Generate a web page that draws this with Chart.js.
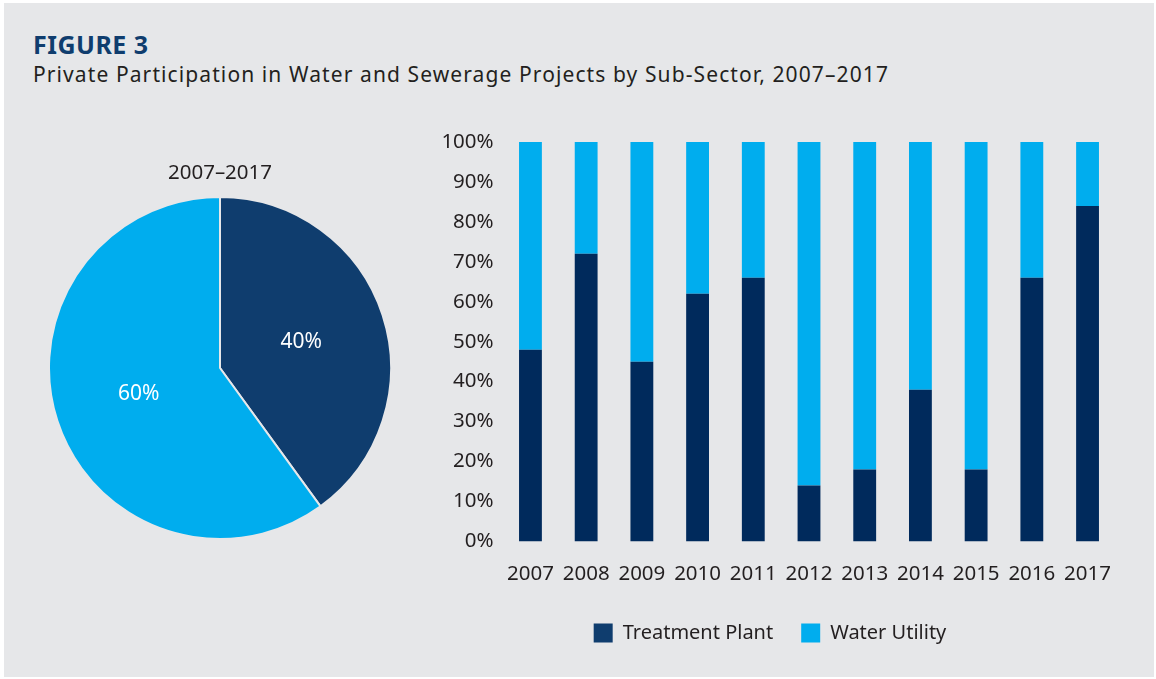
<!DOCTYPE html>
<html>
<head>
<meta charset="utf-8">
<script src="https://cdn.jsdelivr.net/npm/chart.js@4.4.1/dist/chart.umd.min.js"></script>
<style>
  html, body { margin:0; padding:0; background:#ffffff; }
  body { width:1156px; height:679px; position:relative; overflow:hidden; font-family: "Noto Sans", sans-serif; }
  #panel { position:absolute; left:4px; top:3px; right:2px; bottom:2px; background:#e6e7e9; }
  #fig { position:absolute; left:33px; top:29px; font-size:25px; line-height:30px; font-weight:700; color:#0f3d6e; white-space:nowrap; letter-spacing:0.5px; }
  #sub { position:absolute; left:33px; top:60px; font-size:21px; line-height:28px; color:#231f20; white-space:nowrap; letter-spacing:1.1px; }
  #pieWrap { position:absolute; left:48px; top:158px; width:344px; height:383px; }
  #barWrap { position:absolute; left:400px; top:110px; width:740px; height:553px; }
</style>
</head>
<body>
<div id="panel"></div>
<div id="fig">FIGURE 3</div>
<div id="sub">Private Participation in Water and Sewerage Projects by Sub-Sector, 2007–2017</div>
<div id="pieWrap"><canvas id="pie"></canvas></div>
<div id="barWrap"><canvas id="bar"></canvas></div>
<script>
const pieTitle = "2007–2017";
const seriesNames = ["Treatment Plant", "Water Utility"];
const pieValues = [40, 60];
const years = ["2007","2008","2009","2010","2011","2012","2013","2014","2015","2016","2017"];
const treatmentPlant = [48, 72, 45, 62, 66, 14, 18, 38, 18, 66, 84];
const waterUtility = [52, 28, 55, 38, 34, 86, 82, 62, 82, 34, 16];

const DARK_PIE = "#0f3d6e";
const DARK_BAR = "#002a5c";
const LIGHT = "#00adee";
const TEXT = "#231f20";
const FONT = "'Noto Sans', sans-serif";

const pieLabels = {
  id: "pieLabels",
  afterDatasetsDraw(chart) {
    const ctx = chart.ctx;
    const meta = chart.getDatasetMeta(0);
    ctx.save();
    ctx.fillStyle = "#ffffff";
    ctx.font = "21px " + FONT;
    ctx.textAlign = "center";
    ctx.textBaseline = "middle";
    meta.data.forEach((arc, i) => {
      const p = arc.tooltipPosition();
      ctx.fillText(pieValues[i] + "%", p.x, p.y);
    });
    ctx.restore();
  }
};

new Chart(document.getElementById("pie"), {
  type: "pie",
  data: {
    labels: seriesNames,
    datasets: [{
      data: pieValues,
      backgroundColor: [DARK_PIE, LIGHT],
      borderColor: "#e6e7e9",
      borderWidth: 2
    }]
  },
  options: {
    responsive: true,
    maintainAspectRatio: false,
    animation: false,
    layout: { padding: 0 },
    plugins: {
      legend: { display: false },
      tooltip: { enabled: false },
      title: {
        display: true,
        text: pieTitle,
        color: TEXT,
        font: { family: FONT, size: 20.5, weight: "normal", lineHeight: 1.2 },
        padding: { top: 3, bottom: 9.4 }
      }
    }
  },
  plugins: [pieLabels]
});

new Chart(document.getElementById("bar"), {
  type: "bar",
  data: {
    labels: years,
    datasets: [
      { label: seriesNames[0], data: treatmentPlant, backgroundColor: DARK_BAR, barPercentage: 0.41, categoryPercentage: 1 },
      { label: seriesNames[1], data: waterUtility, backgroundColor: LIGHT, barPercentage: 0.41, categoryPercentage: 1 }
    ]
  },
  options: {
    responsive: true,
    maintainAspectRatio: false,
    animation: false,
    layout: { padding: { top: 32, right: 24.6, left: 24.6, bottom: 10 } },
    scales: {
      x: {
        stacked: true,
        grid: { display: false, drawTicks: false },
        border: { display: false },
        ticks: { color: TEXT, font: { family: FONT, size: 20.5 }, padding: 20, maxRotation: 0, autoSkip: false },
        afterFit(scale) { scale.height -= 11; }
      },
      y: {
        stacked: true,
        min: 0, max: 100,
        grid: { display: false, drawTicks: false },
        border: { display: false },
        ticks: { stepSize: 10, color: TEXT, font: { family: FONT, size: 20.5 }, padding: 9, callback: v => v + "%" },
        afterFit(scale) { scale.width = 78; }
      }
    },
    plugins: {
      tooltip: { enabled: false },
      legend: {
        position: "bottom",
        labels: {
          color: TEXT,
          font: { family: FONT, size: 20 },
          boxWidth: 19, boxHeight: 19,
          padding: 28,
          generateLabels(chart) {
            return chart.data.datasets.map((d, i) => ({
              text: d.label,
              fillStyle: i === 0 ? DARK_PIE : LIGHT,
              strokeStyle: "rgba(0,0,0,0)",
              lineWidth: 0,
              datasetIndex: i,
              fontColor: TEXT
            }));
          }
        }
      }
    }
  }
});
</script>
</body>
</html>
